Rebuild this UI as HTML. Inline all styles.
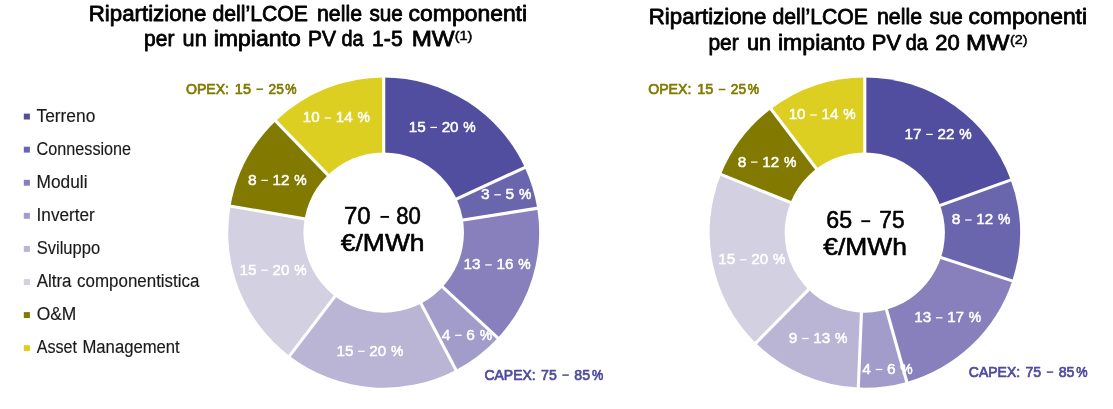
<!DOCTYPE html>
<html><head><meta charset="utf-8"><title>LCOE</title>
<style>
html,body{margin:0;padding:0;background:#fff;}
body{width:1113px;height:409px;overflow:hidden;font-family:"Liberation Sans",sans-serif;}
svg{display:block;font-family:"Liberation Sans",sans-serif;will-change:transform;}
text{white-space:pre;}
</style></head><body>
<svg width="1113" height="409" viewBox="0 0 1113 409">
<rect width="1113" height="409" fill="#fff"/>
<g transform="translate(383.7,232.55) scale(1.002,1)">
<path d="M0,0 L0.00,-155.15 A155.15,155.15 0 0 1 140.84,-65.08 Z" fill="#524e9f"/>
<path d="M0,0 L140.84,-65.08 A155.15,155.15 0 0 1 153.24,-24.27 Z" fill="#6a66ad"/>
<path d="M0,0 L153.24,-24.27 A155.15,155.15 0 0 1 113.84,105.42 Z" fill="#8780bc"/>
<path d="M0,0 L113.84,105.42 A155.15,155.15 0 0 1 72.12,137.37 Z" fill="#a29ccb"/>
<path d="M0,0 L72.12,137.37 A155.15,155.15 0 0 1 -94.02,123.42 Z" fill="#bab4d5"/>
<path d="M0,0 L-94.02,123.42 A155.15,155.15 0 0 1 -152.89,-26.41 Z" fill="#d2d0e1"/>
<path d="M0,0 L-152.89,-26.41 A155.15,155.15 0 0 1 -107.78,-111.61 Z" fill="#827a00"/>
<path d="M0,0 L-107.78,-111.61 A155.15,155.15 0 0 1 -0.00,-155.15 Z" fill="#ddcf22"/>
</g>
<g transform="translate(864.8,232.55) scale(1.0,1)">
<path d="M0,0 L0.00,-155.15 A155.15,155.15 0 0 1 145.98,-52.56 Z" fill="#524e9f"/>
<path d="M0,0 L145.98,-52.56 A155.15,155.15 0 0 1 147.43,48.33 Z" fill="#6a66ad"/>
<path d="M0,0 L147.43,48.33 A155.15,155.15 0 0 1 41.98,149.36 Z" fill="#8780bc"/>
<path d="M0,0 L41.98,149.36 A155.15,155.15 0 0 1 -6.50,155.01 Z" fill="#a29ccb"/>
<path d="M0,0 L-6.50,155.01 A155.15,155.15 0 0 1 -108.94,110.47 Z" fill="#bab4d5"/>
<path d="M0,0 L-108.94,110.47 A155.15,155.15 0 0 1 -143.85,-58.12 Z" fill="#d2d0e1"/>
<path d="M0,0 L-143.85,-58.12 A155.15,155.15 0 0 1 -93.80,-123.58 Z" fill="#827a00"/>
<path d="M0,0 L-93.80,-123.58 A155.15,155.15 0 0 1 -0.00,-155.15 Z" fill="#ddcf22"/>
</g>
<text x="408.75" y="131.80" font-size="15.0" font-weight="normal" fill="#ffffff" textLength="16.90" lengthAdjust="spacingAndGlyphs" stroke="#ffffff" stroke-width="0.5" stroke-linejoin="round">15</text>
<rect x="430.40" y="126.78" width="6.60" height="1.25" fill="#ffffff"/>
<text x="441.65" y="131.80" font-size="15.0" font-weight="normal" fill="#ffffff" textLength="16.90" lengthAdjust="spacingAndGlyphs" stroke="#ffffff" stroke-width="0.5" stroke-linejoin="round">20</text>
<text x="463.35" y="131.80" font-size="15.0" font-weight="normal" fill="#ffffff" textLength="12.40" lengthAdjust="spacingAndGlyphs" stroke="#ffffff" stroke-width="0.5" stroke-linejoin="round">%</text>
<text x="480.95" y="199.20" font-size="15.0" font-weight="normal" fill="#ffffff" textLength="8.60" lengthAdjust="spacingAndGlyphs" stroke="#ffffff" stroke-width="0.5" stroke-linejoin="round">3</text>
<rect x="494.30" y="194.17" width="6.60" height="1.25" fill="#ffffff"/>
<text x="505.55" y="199.20" font-size="15.0" font-weight="normal" fill="#ffffff" textLength="8.60" lengthAdjust="spacingAndGlyphs" stroke="#ffffff" stroke-width="0.5" stroke-linejoin="round">5</text>
<text x="518.95" y="199.20" font-size="15.0" font-weight="normal" fill="#ffffff" textLength="12.40" lengthAdjust="spacingAndGlyphs" stroke="#ffffff" stroke-width="0.5" stroke-linejoin="round">%</text>
<text x="463.55" y="269.30" font-size="15.0" font-weight="normal" fill="#ffffff" textLength="16.90" lengthAdjust="spacingAndGlyphs" stroke="#ffffff" stroke-width="0.5" stroke-linejoin="round">13</text>
<rect x="485.20" y="264.28" width="6.60" height="1.25" fill="#ffffff"/>
<text x="496.45" y="269.30" font-size="15.0" font-weight="normal" fill="#ffffff" textLength="16.90" lengthAdjust="spacingAndGlyphs" stroke="#ffffff" stroke-width="0.5" stroke-linejoin="round">16</text>
<text x="518.15" y="269.30" font-size="15.0" font-weight="normal" fill="#ffffff" textLength="12.40" lengthAdjust="spacingAndGlyphs" stroke="#ffffff" stroke-width="0.5" stroke-linejoin="round">%</text>
<text x="441.75" y="339.70" font-size="15.0" font-weight="normal" fill="#ffffff" textLength="8.60" lengthAdjust="spacingAndGlyphs" stroke="#ffffff" stroke-width="0.5" stroke-linejoin="round">4</text>
<rect x="455.10" y="334.68" width="6.60" height="1.25" fill="#ffffff"/>
<text x="466.35" y="339.70" font-size="15.0" font-weight="normal" fill="#ffffff" textLength="8.60" lengthAdjust="spacingAndGlyphs" stroke="#ffffff" stroke-width="0.5" stroke-linejoin="round">6</text>
<text x="479.75" y="339.70" font-size="15.0" font-weight="normal" fill="#ffffff" textLength="12.40" lengthAdjust="spacingAndGlyphs" stroke="#ffffff" stroke-width="0.5" stroke-linejoin="round">%</text>
<text x="336.45" y="355.70" font-size="15.0" font-weight="normal" fill="#ffffff" textLength="16.90" lengthAdjust="spacingAndGlyphs" stroke="#ffffff" stroke-width="0.5" stroke-linejoin="round">15</text>
<rect x="358.10" y="350.68" width="6.60" height="1.25" fill="#ffffff"/>
<text x="369.35" y="355.70" font-size="15.0" font-weight="normal" fill="#ffffff" textLength="16.90" lengthAdjust="spacingAndGlyphs" stroke="#ffffff" stroke-width="0.5" stroke-linejoin="round">20</text>
<text x="391.05" y="355.70" font-size="15.0" font-weight="normal" fill="#ffffff" textLength="12.40" lengthAdjust="spacingAndGlyphs" stroke="#ffffff" stroke-width="0.5" stroke-linejoin="round">%</text>
<text x="239.55" y="274.60" font-size="15.0" font-weight="normal" fill="#ffffff" textLength="16.90" lengthAdjust="spacingAndGlyphs" stroke="#ffffff" stroke-width="0.5" stroke-linejoin="round">15</text>
<rect x="261.20" y="269.58" width="6.60" height="1.25" fill="#ffffff"/>
<text x="272.45" y="274.60" font-size="15.0" font-weight="normal" fill="#ffffff" textLength="16.90" lengthAdjust="spacingAndGlyphs" stroke="#ffffff" stroke-width="0.5" stroke-linejoin="round">20</text>
<text x="294.15" y="274.60" font-size="15.0" font-weight="normal" fill="#ffffff" textLength="12.40" lengthAdjust="spacingAndGlyphs" stroke="#ffffff" stroke-width="0.5" stroke-linejoin="round">%</text>
<text x="247.95" y="184.80" font-size="15.0" font-weight="normal" fill="#ffffff" textLength="8.60" lengthAdjust="spacingAndGlyphs" stroke="#ffffff" stroke-width="0.5" stroke-linejoin="round">8</text>
<rect x="261.30" y="179.78" width="6.60" height="1.25" fill="#ffffff"/>
<text x="272.55" y="184.80" font-size="15.0" font-weight="normal" fill="#ffffff" textLength="16.90" lengthAdjust="spacingAndGlyphs" stroke="#ffffff" stroke-width="0.5" stroke-linejoin="round">12</text>
<text x="294.25" y="184.80" font-size="15.0" font-weight="normal" fill="#ffffff" textLength="12.40" lengthAdjust="spacingAndGlyphs" stroke="#ffffff" stroke-width="0.5" stroke-linejoin="round">%</text>
<text x="302.85" y="122.40" font-size="15.0" font-weight="normal" fill="#ffffff" textLength="16.90" lengthAdjust="spacingAndGlyphs" stroke="#ffffff" stroke-width="0.5" stroke-linejoin="round">10</text>
<rect x="324.50" y="117.38" width="6.60" height="1.25" fill="#ffffff"/>
<text x="335.75" y="122.40" font-size="15.0" font-weight="normal" fill="#ffffff" textLength="16.90" lengthAdjust="spacingAndGlyphs" stroke="#ffffff" stroke-width="0.5" stroke-linejoin="round">14</text>
<text x="357.45" y="122.40" font-size="15.0" font-weight="normal" fill="#ffffff" textLength="12.40" lengthAdjust="spacingAndGlyphs" stroke="#ffffff" stroke-width="0.5" stroke-linejoin="round">%</text>
<text x="904.55" y="138.80" font-size="15.0" font-weight="normal" fill="#ffffff" textLength="16.90" lengthAdjust="spacingAndGlyphs" stroke="#ffffff" stroke-width="0.5" stroke-linejoin="round">17</text>
<rect x="926.20" y="133.78" width="6.60" height="1.25" fill="#ffffff"/>
<text x="937.45" y="138.80" font-size="15.0" font-weight="normal" fill="#ffffff" textLength="16.90" lengthAdjust="spacingAndGlyphs" stroke="#ffffff" stroke-width="0.5" stroke-linejoin="round">22</text>
<text x="959.15" y="138.80" font-size="15.0" font-weight="normal" fill="#ffffff" textLength="12.40" lengthAdjust="spacingAndGlyphs" stroke="#ffffff" stroke-width="0.5" stroke-linejoin="round">%</text>
<text x="951.75" y="224.40" font-size="15.0" font-weight="normal" fill="#ffffff" textLength="8.60" lengthAdjust="spacingAndGlyphs" stroke="#ffffff" stroke-width="0.5" stroke-linejoin="round">8</text>
<rect x="965.10" y="219.38" width="6.60" height="1.25" fill="#ffffff"/>
<text x="976.35" y="224.40" font-size="15.0" font-weight="normal" fill="#ffffff" textLength="16.90" lengthAdjust="spacingAndGlyphs" stroke="#ffffff" stroke-width="0.5" stroke-linejoin="round">12</text>
<text x="998.05" y="224.40" font-size="15.0" font-weight="normal" fill="#ffffff" textLength="12.40" lengthAdjust="spacingAndGlyphs" stroke="#ffffff" stroke-width="0.5" stroke-linejoin="round">%</text>
<text x="914.25" y="322.20" font-size="15.0" font-weight="normal" fill="#ffffff" textLength="16.90" lengthAdjust="spacingAndGlyphs" stroke="#ffffff" stroke-width="0.5" stroke-linejoin="round">13</text>
<rect x="935.90" y="317.18" width="6.60" height="1.25" fill="#ffffff"/>
<text x="947.15" y="322.20" font-size="15.0" font-weight="normal" fill="#ffffff" textLength="16.90" lengthAdjust="spacingAndGlyphs" stroke="#ffffff" stroke-width="0.5" stroke-linejoin="round">17</text>
<text x="968.85" y="322.20" font-size="15.0" font-weight="normal" fill="#ffffff" textLength="12.40" lengthAdjust="spacingAndGlyphs" stroke="#ffffff" stroke-width="0.5" stroke-linejoin="round">%</text>
<text x="862.35" y="373.90" font-size="15.0" font-weight="normal" fill="#ffffff" textLength="8.60" lengthAdjust="spacingAndGlyphs" stroke="#ffffff" stroke-width="0.5" stroke-linejoin="round">4</text>
<rect x="875.70" y="368.88" width="6.60" height="1.25" fill="#ffffff"/>
<text x="886.95" y="373.90" font-size="15.0" font-weight="normal" fill="#ffffff" textLength="8.60" lengthAdjust="spacingAndGlyphs" stroke="#ffffff" stroke-width="0.5" stroke-linejoin="round">6</text>
<text x="900.35" y="373.90" font-size="15.0" font-weight="normal" fill="#ffffff" textLength="12.40" lengthAdjust="spacingAndGlyphs" stroke="#ffffff" stroke-width="0.5" stroke-linejoin="round">%</text>
<text x="788.75" y="342.90" font-size="15.0" font-weight="normal" fill="#ffffff" textLength="8.60" lengthAdjust="spacingAndGlyphs" stroke="#ffffff" stroke-width="0.5" stroke-linejoin="round">9</text>
<rect x="802.10" y="337.88" width="6.60" height="1.25" fill="#ffffff"/>
<text x="813.35" y="342.90" font-size="15.0" font-weight="normal" fill="#ffffff" textLength="16.90" lengthAdjust="spacingAndGlyphs" stroke="#ffffff" stroke-width="0.5" stroke-linejoin="round">13</text>
<text x="835.05" y="342.90" font-size="15.0" font-weight="normal" fill="#ffffff" textLength="12.40" lengthAdjust="spacingAndGlyphs" stroke="#ffffff" stroke-width="0.5" stroke-linejoin="round">%</text>
<text x="718.35" y="264.20" font-size="15.0" font-weight="normal" fill="#ffffff" textLength="16.90" lengthAdjust="spacingAndGlyphs" stroke="#ffffff" stroke-width="0.5" stroke-linejoin="round">15</text>
<rect x="740.00" y="259.18" width="6.60" height="1.25" fill="#ffffff"/>
<text x="751.25" y="264.20" font-size="15.0" font-weight="normal" fill="#ffffff" textLength="16.90" lengthAdjust="spacingAndGlyphs" stroke="#ffffff" stroke-width="0.5" stroke-linejoin="round">20</text>
<text x="772.95" y="264.20" font-size="15.0" font-weight="normal" fill="#ffffff" textLength="12.40" lengthAdjust="spacingAndGlyphs" stroke="#ffffff" stroke-width="0.5" stroke-linejoin="round">%</text>
<text x="737.65" y="166.50" font-size="15.0" font-weight="normal" fill="#ffffff" textLength="8.60" lengthAdjust="spacingAndGlyphs" stroke="#ffffff" stroke-width="0.5" stroke-linejoin="round">8</text>
<rect x="751.00" y="161.47" width="6.60" height="1.25" fill="#ffffff"/>
<text x="762.25" y="166.50" font-size="15.0" font-weight="normal" fill="#ffffff" textLength="16.90" lengthAdjust="spacingAndGlyphs" stroke="#ffffff" stroke-width="0.5" stroke-linejoin="round">12</text>
<text x="783.95" y="166.50" font-size="15.0" font-weight="normal" fill="#ffffff" textLength="12.40" lengthAdjust="spacingAndGlyphs" stroke="#ffffff" stroke-width="0.5" stroke-linejoin="round">%</text>
<text x="788.65" y="119.40" font-size="15.0" font-weight="normal" fill="#ffffff" textLength="16.90" lengthAdjust="spacingAndGlyphs" stroke="#ffffff" stroke-width="0.5" stroke-linejoin="round">10</text>
<rect x="810.30" y="114.38" width="6.60" height="1.25" fill="#ffffff"/>
<text x="821.55" y="119.40" font-size="15.0" font-weight="normal" fill="#ffffff" textLength="16.90" lengthAdjust="spacingAndGlyphs" stroke="#ffffff" stroke-width="0.5" stroke-linejoin="round">14</text>
<text x="843.25" y="119.40" font-size="15.0" font-weight="normal" fill="#ffffff" textLength="12.40" lengthAdjust="spacingAndGlyphs" stroke="#ffffff" stroke-width="0.5" stroke-linejoin="round">%</text>
<g transform="translate(383.7,232.55) scale(1.002,1)">
<line x1="0" y1="0" x2="0.00" y2="-159.15" stroke="#fff" stroke-width="3.1"/>
<line x1="0" y1="0" x2="144.47" y2="-66.76" stroke="#fff" stroke-width="3.1"/>
<line x1="0" y1="0" x2="157.19" y2="-24.90" stroke="#fff" stroke-width="3.1"/>
<line x1="0" y1="0" x2="116.77" y2="108.13" stroke="#fff" stroke-width="3.1"/>
<line x1="0" y1="0" x2="73.98" y2="140.91" stroke="#fff" stroke-width="3.1"/>
<line x1="0" y1="0" x2="-96.44" y2="126.60" stroke="#fff" stroke-width="3.1"/>
<line x1="0" y1="0" x2="-156.83" y2="-27.09" stroke="#fff" stroke-width="3.1"/>
<line x1="0" y1="0" x2="-110.55" y2="-114.48" stroke="#fff" stroke-width="3.1"/>
<circle cx="0" cy="0" r="80.1" fill="#fff"/>
</g>
<g transform="translate(864.8,232.55) scale(1.0,1)">
<line x1="0" y1="0" x2="0.00" y2="-159.15" stroke="#fff" stroke-width="3.1"/>
<line x1="0" y1="0" x2="149.74" y2="-53.91" stroke="#fff" stroke-width="3.1"/>
<line x1="0" y1="0" x2="151.23" y2="49.58" stroke="#fff" stroke-width="3.1"/>
<line x1="0" y1="0" x2="43.07" y2="153.21" stroke="#fff" stroke-width="3.1"/>
<line x1="0" y1="0" x2="-6.66" y2="159.01" stroke="#fff" stroke-width="3.1"/>
<line x1="0" y1="0" x2="-111.75" y2="113.32" stroke="#fff" stroke-width="3.1"/>
<line x1="0" y1="0" x2="-147.56" y2="-59.62" stroke="#fff" stroke-width="3.1"/>
<line x1="0" y1="0" x2="-96.22" y2="-126.77" stroke="#fff" stroke-width="3.1"/>
<circle cx="0" cy="0" r="80.1" fill="#fff"/>
</g>
<text x="185.95" y="93.50" font-size="14.3" font-weight="normal" fill="#827a00" textLength="43.10" lengthAdjust="spacingAndGlyphs" stroke="#827a00" stroke-width="0.7" stroke-linejoin="round">OPEX:</text>
<text x="234.85" y="93.50" font-size="14.3" font-weight="normal" fill="#827a00" textLength="16.10" lengthAdjust="spacingAndGlyphs" stroke="#827a00" stroke-width="0.7" stroke-linejoin="round">15</text>
<rect x="256.40" y="88.45" width="6.70" height="1.50" fill="#827a00"/>
<text x="268.55" y="93.50" font-size="14.3" font-weight="normal" fill="#827a00" textLength="15.30" lengthAdjust="spacingAndGlyphs" stroke="#827a00" stroke-width="0.7" stroke-linejoin="round">25</text>
<text x="285.35" y="93.50" font-size="14.3" font-weight="normal" fill="#827a00" textLength="11.30" lengthAdjust="spacingAndGlyphs" stroke="#827a00" stroke-width="0.7" stroke-linejoin="round">%</text>
<text x="648.25" y="93.80" font-size="14.3" font-weight="normal" fill="#827a00" textLength="43.10" lengthAdjust="spacingAndGlyphs" stroke="#827a00" stroke-width="0.7" stroke-linejoin="round">OPEX:</text>
<text x="697.15" y="93.80" font-size="14.3" font-weight="normal" fill="#827a00" textLength="16.10" lengthAdjust="spacingAndGlyphs" stroke="#827a00" stroke-width="0.7" stroke-linejoin="round">15</text>
<rect x="718.70" y="88.75" width="6.70" height="1.50" fill="#827a00"/>
<text x="730.85" y="93.80" font-size="14.3" font-weight="normal" fill="#827a00" textLength="15.30" lengthAdjust="spacingAndGlyphs" stroke="#827a00" stroke-width="0.7" stroke-linejoin="round">25</text>
<text x="747.65" y="93.80" font-size="14.3" font-weight="normal" fill="#827a00" textLength="11.30" lengthAdjust="spacingAndGlyphs" stroke="#827a00" stroke-width="0.7" stroke-linejoin="round">%</text>
<text x="484.45" y="379.60" font-size="14.3" font-weight="normal" fill="#4e4b9e" textLength="51.30" lengthAdjust="spacingAndGlyphs" stroke="#4e4b9e" stroke-width="0.7" stroke-linejoin="round">CAPEX:</text>
<text x="541.05" y="379.60" font-size="14.3" font-weight="normal" fill="#4e4b9e" textLength="15.70" lengthAdjust="spacingAndGlyphs" stroke="#4e4b9e" stroke-width="0.7" stroke-linejoin="round">75</text>
<rect x="562.30" y="374.35" width="6.50" height="1.50" fill="#4e4b9e"/>
<text x="574.35" y="379.60" font-size="14.3" font-weight="normal" fill="#4e4b9e" textLength="15.70" lengthAdjust="spacingAndGlyphs" stroke="#4e4b9e" stroke-width="0.7" stroke-linejoin="round">85</text>
<text x="591.95" y="379.60" font-size="14.3" font-weight="normal" fill="#4e4b9e" textLength="11.30" lengthAdjust="spacingAndGlyphs" stroke="#4e4b9e" stroke-width="0.7" stroke-linejoin="round">%</text>
<text x="968.85" y="376.60" font-size="14.3" font-weight="normal" fill="#4e4b9e" textLength="51.30" lengthAdjust="spacingAndGlyphs" stroke="#4e4b9e" stroke-width="0.7" stroke-linejoin="round">CAPEX:</text>
<text x="1025.45" y="376.60" font-size="14.3" font-weight="normal" fill="#4e4b9e" textLength="15.70" lengthAdjust="spacingAndGlyphs" stroke="#4e4b9e" stroke-width="0.7" stroke-linejoin="round">75</text>
<rect x="1046.70" y="371.35" width="6.50" height="1.50" fill="#4e4b9e"/>
<text x="1058.75" y="376.60" font-size="14.3" font-weight="normal" fill="#4e4b9e" textLength="15.70" lengthAdjust="spacingAndGlyphs" stroke="#4e4b9e" stroke-width="0.7" stroke-linejoin="round">85</text>
<text x="1076.35" y="376.60" font-size="14.3" font-weight="normal" fill="#4e4b9e" textLength="11.30" lengthAdjust="spacingAndGlyphs" stroke="#4e4b9e" stroke-width="0.7" stroke-linejoin="round">%</text>
<text x="344.00" y="224.00" font-size="23.8" font-weight="normal" fill="#000" textLength="26.70" lengthAdjust="spacingAndGlyphs" stroke="#000" stroke-width="0.6" stroke-linejoin="round">70</text>
<rect x="380.50" y="215.95" width="8.50" height="1.90" fill="#000"/>
<text x="396.20" y="224.00" font-size="23.8" font-weight="normal" fill="#000" textLength="24.60" lengthAdjust="spacingAndGlyphs" stroke="#000" stroke-width="0.6" stroke-linejoin="round">80</text>
<text x="340.80" y="251.40" font-size="23.8" font-weight="normal" fill="#000" textLength="83.80" lengthAdjust="spacingAndGlyphs" stroke="#000" stroke-width="0.6" stroke-linejoin="round">€/MWh</text>
<text x="826.30" y="228.30" font-size="23.8" font-weight="normal" fill="#000" textLength="25.80" lengthAdjust="spacingAndGlyphs" stroke="#000" stroke-width="0.6" stroke-linejoin="round">65</text>
<rect x="861.30" y="220.25" width="8.90" height="1.90" fill="#000"/>
<text x="879.30" y="228.30" font-size="23.8" font-weight="normal" fill="#000" textLength="25.30" lengthAdjust="spacingAndGlyphs" stroke="#000" stroke-width="0.6" stroke-linejoin="round">75</text>
<text x="823.30" y="255.30" font-size="23.8" font-weight="normal" fill="#000" textLength="83.60" lengthAdjust="spacingAndGlyphs" stroke="#000" stroke-width="0.6" stroke-linejoin="round">€/MWh</text>
<text x="88.70" y="20.90" font-size="22.2" font-weight="normal" fill="#000" textLength="117.70" lengthAdjust="spacingAndGlyphs" stroke="#000" stroke-width="0.8" stroke-linejoin="round">Ripartizione</text>
<text x="212.40" y="20.90" font-size="22.2" font-weight="normal" fill="#000" textLength="95.60" lengthAdjust="spacingAndGlyphs" stroke="#000" stroke-width="0.8" stroke-linejoin="round">dell’LCOE</text>
<text x="317.00" y="20.90" font-size="22.2" font-weight="normal" fill="#000" textLength="45.10" lengthAdjust="spacingAndGlyphs" stroke="#000" stroke-width="0.8" stroke-linejoin="round">nelle</text>
<text x="369.50" y="20.90" font-size="22.2" font-weight="normal" fill="#000" textLength="33.40" lengthAdjust="spacingAndGlyphs" stroke="#000" stroke-width="0.8" stroke-linejoin="round">sue</text>
<text x="408.60" y="20.90" font-size="22.2" font-weight="normal" fill="#000" textLength="118.50" lengthAdjust="spacingAndGlyphs" stroke="#000" stroke-width="0.8" stroke-linejoin="round">componenti</text>
<text x="144.10" y="46.40" font-size="22.2" font-weight="normal" fill="#000" textLength="30.30" lengthAdjust="spacingAndGlyphs" stroke="#000" stroke-width="0.8" stroke-linejoin="round">per</text>
<text x="182.60" y="46.40" font-size="22.2" font-weight="normal" fill="#000" textLength="24.10" lengthAdjust="spacingAndGlyphs" stroke="#000" stroke-width="0.8" stroke-linejoin="round">un</text>
<text x="213.70" y="46.40" font-size="22.2" font-weight="normal" fill="#000" textLength="87.10" lengthAdjust="spacingAndGlyphs" stroke="#000" stroke-width="0.8" stroke-linejoin="round">impianto</text>
<text x="308.10" y="46.40" font-size="22.2" font-weight="normal" fill="#000" textLength="28.00" lengthAdjust="spacingAndGlyphs" stroke="#000" stroke-width="0.8" stroke-linejoin="round">PV</text>
<text x="341.50" y="46.40" font-size="22.2" font-weight="normal" fill="#000" textLength="22.10" lengthAdjust="spacingAndGlyphs" stroke="#000" stroke-width="0.8" stroke-linejoin="round">da</text>
<text x="372.10" y="46.40" font-size="22.2" font-weight="normal" fill="#000" textLength="30.60" lengthAdjust="spacingAndGlyphs" stroke="#000" stroke-width="0.8" stroke-linejoin="round">1-5</text>
<text x="411.70" y="46.40" font-size="22.2" font-weight="normal" fill="#000" textLength="43.00" lengthAdjust="spacingAndGlyphs" stroke="#000" stroke-width="0.8" stroke-linejoin="round">MW</text>
<text x="454.75" y="40.30" font-size="13.6" font-weight="normal" fill="#000" textLength="17.70" lengthAdjust="spacingAndGlyphs" stroke="#000" stroke-width="0.5" stroke-linejoin="round">(1)</text>
<text x="648.70" y="24.40" font-size="22.2" font-weight="normal" fill="#000" textLength="117.70" lengthAdjust="spacingAndGlyphs" stroke="#000" stroke-width="0.8" stroke-linejoin="round">Ripartizione</text>
<text x="772.40" y="24.40" font-size="22.2" font-weight="normal" fill="#000" textLength="95.60" lengthAdjust="spacingAndGlyphs" stroke="#000" stroke-width="0.8" stroke-linejoin="round">dell’LCOE</text>
<text x="877.00" y="24.40" font-size="22.2" font-weight="normal" fill="#000" textLength="45.10" lengthAdjust="spacingAndGlyphs" stroke="#000" stroke-width="0.8" stroke-linejoin="round">nelle</text>
<text x="929.50" y="24.40" font-size="22.2" font-weight="normal" fill="#000" textLength="33.40" lengthAdjust="spacingAndGlyphs" stroke="#000" stroke-width="0.8" stroke-linejoin="round">sue</text>
<text x="968.60" y="24.40" font-size="22.2" font-weight="normal" fill="#000" textLength="118.50" lengthAdjust="spacingAndGlyphs" stroke="#000" stroke-width="0.8" stroke-linejoin="round">componenti</text>
<text x="708.40" y="50.40" font-size="22.2" font-weight="normal" fill="#000" textLength="30.30" lengthAdjust="spacingAndGlyphs" stroke="#000" stroke-width="0.8" stroke-linejoin="round">per</text>
<text x="746.90" y="50.40" font-size="22.2" font-weight="normal" fill="#000" textLength="24.10" lengthAdjust="spacingAndGlyphs" stroke="#000" stroke-width="0.8" stroke-linejoin="round">un</text>
<text x="778.00" y="50.40" font-size="22.2" font-weight="normal" fill="#000" textLength="87.10" lengthAdjust="spacingAndGlyphs" stroke="#000" stroke-width="0.8" stroke-linejoin="round">impianto</text>
<text x="871.80" y="50.40" font-size="22.2" font-weight="normal" fill="#000" textLength="29.20" lengthAdjust="spacingAndGlyphs" stroke="#000" stroke-width="0.8" stroke-linejoin="round">PV</text>
<text x="905.70" y="50.40" font-size="22.2" font-weight="normal" fill="#000" textLength="22.00" lengthAdjust="spacingAndGlyphs" stroke="#000" stroke-width="0.8" stroke-linejoin="round">da</text>
<text x="935.30" y="50.40" font-size="22.2" font-weight="normal" fill="#000" textLength="24.50" lengthAdjust="spacingAndGlyphs" stroke="#000" stroke-width="0.8" stroke-linejoin="round">20</text>
<text x="966.10" y="50.40" font-size="22.2" font-weight="normal" fill="#000" textLength="43.30" lengthAdjust="spacingAndGlyphs" stroke="#000" stroke-width="0.8" stroke-linejoin="round">MW</text>
<text x="1009.95" y="44.40" font-size="13.6" font-weight="normal" fill="#000" textLength="17.50" lengthAdjust="spacingAndGlyphs" stroke="#000" stroke-width="0.5" stroke-linejoin="round">(2)</text>
<rect x="23.8" y="113.6" width="6.1" height="5.9" fill="#524e9f"/>
<text x="36.48" y="121.70" font-size="17.6" font-weight="normal" fill="#1a1a1a" textLength="58.85" lengthAdjust="spacingAndGlyphs" stroke="#1a1a1a" stroke-width="0.15" stroke-linejoin="round">Terreno</text>
<rect x="23.8" y="146.7" width="6.1" height="5.9" fill="#6a66ad"/>
<text x="36.58" y="154.79" font-size="17.6" font-weight="normal" fill="#1a1a1a" textLength="94.55" lengthAdjust="spacingAndGlyphs" stroke="#1a1a1a" stroke-width="0.15" stroke-linejoin="round">Connessione</text>
<rect x="23.8" y="179.8" width="6.1" height="5.9" fill="#8780bc"/>
<text x="36.58" y="187.88" font-size="17.6" font-weight="normal" fill="#1a1a1a" textLength="50.95" lengthAdjust="spacingAndGlyphs" stroke="#1a1a1a" stroke-width="0.15" stroke-linejoin="round">Moduli</text>
<rect x="23.8" y="212.9" width="6.1" height="5.9" fill="#a29ccb"/>
<text x="36.58" y="220.97" font-size="17.6" font-weight="normal" fill="#1a1a1a" textLength="58.25" lengthAdjust="spacingAndGlyphs" stroke="#1a1a1a" stroke-width="0.15" stroke-linejoin="round">Inverter</text>
<rect x="23.8" y="246.0" width="6.1" height="5.9" fill="#bab4d5"/>
<text x="36.68" y="254.06" font-size="17.6" font-weight="normal" fill="#1a1a1a" textLength="63.45" lengthAdjust="spacingAndGlyphs" stroke="#1a1a1a" stroke-width="0.15" stroke-linejoin="round">Sviluppo</text>
<rect x="23.8" y="279.1" width="6.1" height="5.9" fill="#d2d0e1"/>
<text x="36.68" y="287.15" font-size="17.6" font-weight="normal" fill="#1a1a1a" textLength="34.85" lengthAdjust="spacingAndGlyphs" stroke="#1a1a1a" stroke-width="0.15" stroke-linejoin="round">Altra</text>
<text x="77.08" y="287.15" font-size="17.6" font-weight="normal" fill="#1a1a1a" textLength="122.35" lengthAdjust="spacingAndGlyphs" stroke="#1a1a1a" stroke-width="0.15" stroke-linejoin="round">componentistica</text>
<rect x="23.8" y="312.1" width="6.1" height="5.9" fill="#827a00"/>
<text x="36.68" y="320.24" font-size="17.6" font-weight="normal" fill="#1a1a1a" textLength="39.65" lengthAdjust="spacingAndGlyphs" stroke="#1a1a1a" stroke-width="0.15" stroke-linejoin="round">O&amp;M</text>
<rect x="23.8" y="345.2" width="6.1" height="5.9" fill="#ddcf22"/>
<text x="36.68" y="353.33" font-size="17.6" font-weight="normal" fill="#1a1a1a" textLength="40.25" lengthAdjust="spacingAndGlyphs" stroke="#1a1a1a" stroke-width="0.15" stroke-linejoin="round">Asset</text>
<text x="82.48" y="353.33" font-size="17.6" font-weight="normal" fill="#1a1a1a" textLength="97.25" lengthAdjust="spacingAndGlyphs" stroke="#1a1a1a" stroke-width="0.15" stroke-linejoin="round">Management</text>
</svg>
</body></html>
